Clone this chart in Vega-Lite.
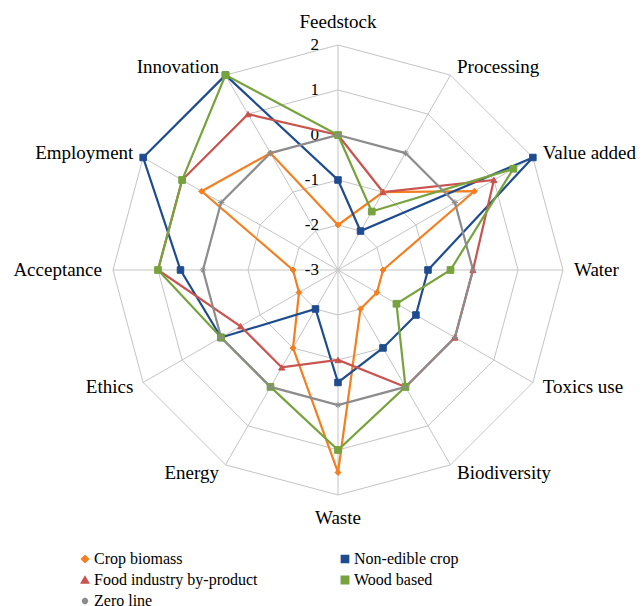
{
  "$schema": "https://vega.github.io/schema/vega-lite/v6.json",
  "width": 644,
  "height": 606,
  "autosize": "none",
  "padding": 0,
  "background": "white",
  "config": {"view": {"stroke": null}, "font": "Liberation Serif"},
  "datasets": {
    "scores": [
      {"series": "Crop biomass", "axis": "Feedstock", "value": -2},
      {"series": "Crop biomass", "axis": "Processing", "value": -1},
      {"series": "Crop biomass", "axis": "Value added", "value": 0.5},
      {"series": "Crop biomass", "axis": "Water", "value": -2},
      {"series": "Crop biomass", "axis": "Toxics use", "value": -2},
      {"series": "Crop biomass", "axis": "Biodiversity", "value": -2},
      {"series": "Crop biomass", "axis": "Waste", "value": 1.5},
      {"series": "Crop biomass", "axis": "Energy", "value": -1},
      {"series": "Crop biomass", "axis": "Ethics", "value": -2},
      {"series": "Crop biomass", "axis": "Acceptance", "value": -2},
      {"series": "Crop biomass", "axis": "Employment", "value": 0.5},
      {"series": "Crop biomass", "axis": "Innovation", "value": 0},
      {"series": "Non-edible crop", "axis": "Feedstock", "value": -1},
      {"series": "Non-edible crop", "axis": "Processing", "value": -2},
      {"series": "Non-edible crop", "axis": "Value added", "value": 2},
      {"series": "Non-edible crop", "axis": "Water", "value": -1},
      {"series": "Non-edible crop", "axis": "Toxics use", "value": -1},
      {"series": "Non-edible crop", "axis": "Biodiversity", "value": -1},
      {"series": "Non-edible crop", "axis": "Waste", "value": -0.5},
      {"series": "Non-edible crop", "axis": "Energy", "value": -2},
      {"series": "Non-edible crop", "axis": "Ethics", "value": 0},
      {"series": "Non-edible crop", "axis": "Acceptance", "value": 0.5},
      {"series": "Non-edible crop", "axis": "Employment", "value": 2},
      {"series": "Non-edible crop", "axis": "Innovation", "value": 2},
      {"series": "Food industry by-product", "axis": "Feedstock", "value": 0},
      {"series": "Food industry by-product", "axis": "Processing", "value": -1},
      {"series": "Food industry by-product", "axis": "Value added", "value": 1},
      {"series": "Food industry by-product", "axis": "Water", "value": 0},
      {"series": "Food industry by-product", "axis": "Toxics use", "value": 0},
      {"series": "Food industry by-product", "axis": "Biodiversity", "value": 0},
      {"series": "Food industry by-product", "axis": "Waste", "value": -1},
      {"series": "Food industry by-product", "axis": "Energy", "value": -0.5},
      {"series": "Food industry by-product", "axis": "Ethics", "value": -0.5},
      {"series": "Food industry by-product", "axis": "Acceptance", "value": 1},
      {"series": "Food industry by-product", "axis": "Employment", "value": 1},
      {"series": "Food industry by-product", "axis": "Innovation", "value": 1},
      {"series": "Wood based", "axis": "Feedstock", "value": 0},
      {"series": "Wood based", "axis": "Processing", "value": -1.5},
      {"series": "Wood based", "axis": "Value added", "value": 1.5},
      {"series": "Wood based", "axis": "Water", "value": -0.5},
      {"series": "Wood based", "axis": "Toxics use", "value": -1.5},
      {"series": "Wood based", "axis": "Biodiversity", "value": 0},
      {"series": "Wood based", "axis": "Waste", "value": 1},
      {"series": "Wood based", "axis": "Energy", "value": 0},
      {"series": "Wood based", "axis": "Ethics", "value": 0},
      {"series": "Wood based", "axis": "Acceptance", "value": 1},
      {"series": "Wood based", "axis": "Employment", "value": 1},
      {"series": "Wood based", "axis": "Innovation", "value": 2},
      {"series": "Zero line", "axis": "Feedstock", "value": 0},
      {"series": "Zero line", "axis": "Processing", "value": 0},
      {"series": "Zero line", "axis": "Value added", "value": 0},
      {"series": "Zero line", "axis": "Water", "value": 0},
      {"series": "Zero line", "axis": "Toxics use", "value": 0},
      {"series": "Zero line", "axis": "Biodiversity", "value": 0},
      {"series": "Zero line", "axis": "Waste", "value": 0},
      {"series": "Zero line", "axis": "Energy", "value": 0},
      {"series": "Zero line", "axis": "Ethics", "value": 0},
      {"series": "Zero line", "axis": "Acceptance", "value": 0},
      {"series": "Zero line", "axis": "Employment", "value": 0},
      {"series": "Zero line", "axis": "Innovation", "value": 0}
    ],
    "levels": [
      {"level": -3}, {"level": -2}, {"level": -1}, {"level": 0}, {"level": 1}, {"level": 2}
    ]
  },
  "encoding": {
    "x": {"field": "px", "type": "quantitative", "scale": {"domain": [-7.511, 6.8], "nice": false, "zero": false}, "axis": null},
    "y": {"field": "py", "type": "quantitative", "scale": {"domain": [-7.467, 6], "nice": false, "zero": false}, "axis": null}
  },
  "layer": [
    {
      "data": {"name": "scores"},
      "transform": [
        {"filter": "datum.series == 'Zero line'"},
        {"calculate": "[1,2,3,4,5]", "as": "ring"},
        {"flatten": ["ring"]},
        {"calculate": "indexof(['Feedstock','Processing','Value added','Water','Toxics use','Biodiversity','Waste','Energy','Ethics','Acceptance','Employment','Innovation'], datum.axis)", "as": "idx"},
        {"calculate": "datum.ring*sin(datum.idx*PI/6)", "as": "px"},
        {"calculate": "datum.ring*cos(datum.idx*PI/6)", "as": "py"}
      ],
      "mark": {"type": "line", "interpolate": "linear-closed", "stroke": "#c4c4c4", "strokeWidth": 1},
      "encoding": {"detail": {"field": "ring", "type": "nominal"}, "order": {"field": "idx", "type": "quantitative"}}
    },
    {
      "data": {"name": "scores"},
      "transform": [
        {"filter": "datum.series == 'Zero line'"},
        {"calculate": "indexof(['Feedstock','Processing','Value added','Water','Toxics use','Biodiversity','Waste','Energy','Ethics','Acceptance','Employment','Innovation'], datum.axis)", "as": "idx"},
        {"calculate": "0", "as": "px"},
        {"calculate": "0", "as": "py"},
        {"calculate": "5*sin(datum.idx*PI/6)", "as": "px2"},
        {"calculate": "5*cos(datum.idx*PI/6)", "as": "py2"}
      ],
      "mark": {"type": "rule", "stroke": "#c4c4c4", "strokeWidth": 1},
      "encoding": {"x2": {"field": "px2"}, "y2": {"field": "py2"}}
    },
    {
      "data": {"name": "levels"},
      "transform": [
        {"calculate": "0", "as": "px"},
        {"calculate": "datum.level + 3", "as": "py"}
      ],
      "mark": {"type": "text", "align": "right", "baseline": "middle", "dx": -19, "fontSize": 17, "font": "Liberation Serif", "color": "#000000"},
      "encoding": {"text": {"field": "level", "type": "nominal"}}
    },
    {
      "data": {"name": "scores"},
      "transform": [
        {"filter": "datum.series == 'Zero line'"},
        {"calculate": "indexof(['Feedstock','Processing','Value added','Water','Toxics use','Biodiversity','Waste','Energy','Ethics','Acceptance','Employment','Innovation'], datum.axis)", "as": "idx"},
        {"filter": "datum.idx >= 1 && datum.idx <= 5"},
        {"calculate": "5.2*sin(datum.idx*PI/6)", "as": "px"},
        {"calculate": "5.2*cos(datum.idx*PI/6)", "as": "py"}
      ],
      "mark": {"type": "text", "align": "left", "baseline": "middle", "dx": 2, "fontSize": 19, "font": "Liberation Serif", "color": "#000000"},
      "encoding": {"text": {"field": "axis", "type": "nominal"}}
    },
    {
      "data": {"name": "scores"},
      "transform": [
        {"filter": "datum.series == 'Zero line'"},
        {"calculate": "indexof(['Feedstock','Processing','Value added','Water','Toxics use','Biodiversity','Waste','Energy','Ethics','Acceptance','Employment','Innovation'], datum.axis)", "as": "idx"},
        {"filter": "datum.idx >= 7"},
        {"calculate": "5.2*sin(datum.idx*PI/6)", "as": "px"},
        {"calculate": "5.2*cos(datum.idx*PI/6)", "as": "py"}
      ],
      "mark": {"type": "text", "align": "right", "baseline": "middle", "dx": -2, "fontSize": 19, "font": "Liberation Serif", "color": "#000000"},
      "encoding": {"text": {"field": "axis", "type": "nominal"}}
    },
    {
      "data": {"name": "scores"},
      "transform": [
        {"filter": "datum.series == 'Zero line'"},
        {"calculate": "indexof(['Feedstock','Processing','Value added','Water','Toxics use','Biodiversity','Waste','Energy','Ethics','Acceptance','Employment','Innovation'], datum.axis)", "as": "idx"},
        {"filter": "datum.idx == 0 || datum.idx == 6"},
        {"calculate": "5.51*sin(datum.idx*PI/6)", "as": "px"},
        {"calculate": "5.51*cos(datum.idx*PI/6)", "as": "py"}
      ],
      "mark": {"type": "text", "align": "center", "baseline": "middle", "fontSize": 19, "font": "Liberation Serif", "color": "#000000"},
      "encoding": {"text": {"field": "axis", "type": "nominal"}}
    },
    {
      "data": {"name": "scores"},
      "transform": [
        {"calculate": "indexof(['Feedstock','Processing','Value added','Water','Toxics use','Biodiversity','Waste','Energy','Ethics','Acceptance','Employment','Innovation'], datum.axis)", "as": "idx"},
        {"calculate": "(datum.value+3)*sin(datum.idx*PI/6)", "as": "px"},
        {"calculate": "(datum.value+3)*cos(datum.idx*PI/6)", "as": "py"}
      ],
      "mark": {"type": "line", "interpolate": "linear-closed", "strokeWidth": 2.2},
      "encoding": {
        "color": {
          "field": "series", "type": "nominal",
          "scale": {"domain": ["Crop biomass", "Food industry by-product", "Zero line", "Non-edible crop", "Wood based"], "range": ["#F37F20", "#C9534F", "#8C8C8C", "#1F4C8F", "#77A33D"]},
          "legend": {"orient": "none", "legendX": 77, "legendY": 551, "columns": 2, "columnPadding": 79, "rowPadding": 5, "symbolType": "stroke", "symbolSize": 400, "symbolStrokeWidth": 2.2, "labelFont": "Liberation Serif", "labelFontSize": 16, "labelColor": "#000000", "labelOffset": 1, "labelLimit": 400, "title": null}
        },
        "order": {"field": "idx", "type": "quantitative"}
      }
    },
    {
      "data": {"name": "scores"},
      "transform": [
        {"calculate": "indexof(['Feedstock','Processing','Value added','Water','Toxics use','Biodiversity','Waste','Energy','Ethics','Acceptance','Employment','Innovation'], datum.axis)", "as": "idx"},
        {"calculate": "(datum.value+3)*sin(datum.idx*PI/6)", "as": "px"},
        {"calculate": "(datum.value+3)*cos(datum.idx*PI/6)", "as": "py"}
      ],
      "mark": {"type": "point", "filled": true, "opacity": 1, "strokeWidth": 1},
      "encoding": {
        "fill": {
          "field": "series", "type": "nominal",
          "scale": {"domain": ["Crop biomass", "Food industry by-product", "Zero line", "Non-edible crop", "Wood based"], "range": ["#F37F20", "#C9534F", "#8C8C8C", "#1F4C8F", "#77A33D"]},
          "legend": {"orient": "none", "legendX": 77, "legendY": 551, "columns": 2, "columnPadding": 79, "rowPadding": 5, "symbolSize": 400, "labelFont": "Liberation Serif", "labelFontSize": 16, "labelColor": "transparent", "labelOffset": 1, "labelLimit": 400, "title": null}
        },
        "stroke": {
          "field": "series", "type": "nominal",
          "scale": {"domain": ["Crop biomass", "Food industry by-product", "Zero line", "Non-edible crop", "Wood based"], "range": ["#F37F20", "#C9534F", "#8C8C8C", "#1F4C8F", "#77A33D"]},
          "legend": {"orient": "none", "legendX": 77, "legendY": 551, "columns": 2, "columnPadding": 79, "rowPadding": 5, "symbolSize": 400, "labelFont": "Liberation Serif", "labelFontSize": 16, "labelColor": "transparent", "labelOffset": 1, "labelLimit": 400, "title": null}
        },
        "shape": {
          "field": "series", "type": "nominal",
          "scale": {"domain": ["Crop biomass", "Food industry by-product", "Zero line", "Non-edible crop", "Wood based"], "range": ["diamond", "triangle-up", "M-1,0L1,0M0,-1L0,1M-0.7,-0.7L0.7,0.7M-0.7,0.7L0.7,-0.7", "square", "square"]},
          "legend": {"orient": "none", "legendX": 77, "legendY": 551, "columns": 2, "columnPadding": 79, "rowPadding": 5, "symbolSize": 400, "labelFont": "Liberation Serif", "labelFontSize": 16, "labelColor": "transparent", "labelOffset": 1, "labelLimit": 400, "title": null}
        },
        "size": {
          "field": "series", "type": "nominal",
          "scale": {"domain": ["Crop biomass", "Food industry by-product", "Zero line", "Non-edible crop", "Wood based"], "range": [35, 45, 60, 45, 70]},
          "legend": null
        }
      }
    }
  ]
}
